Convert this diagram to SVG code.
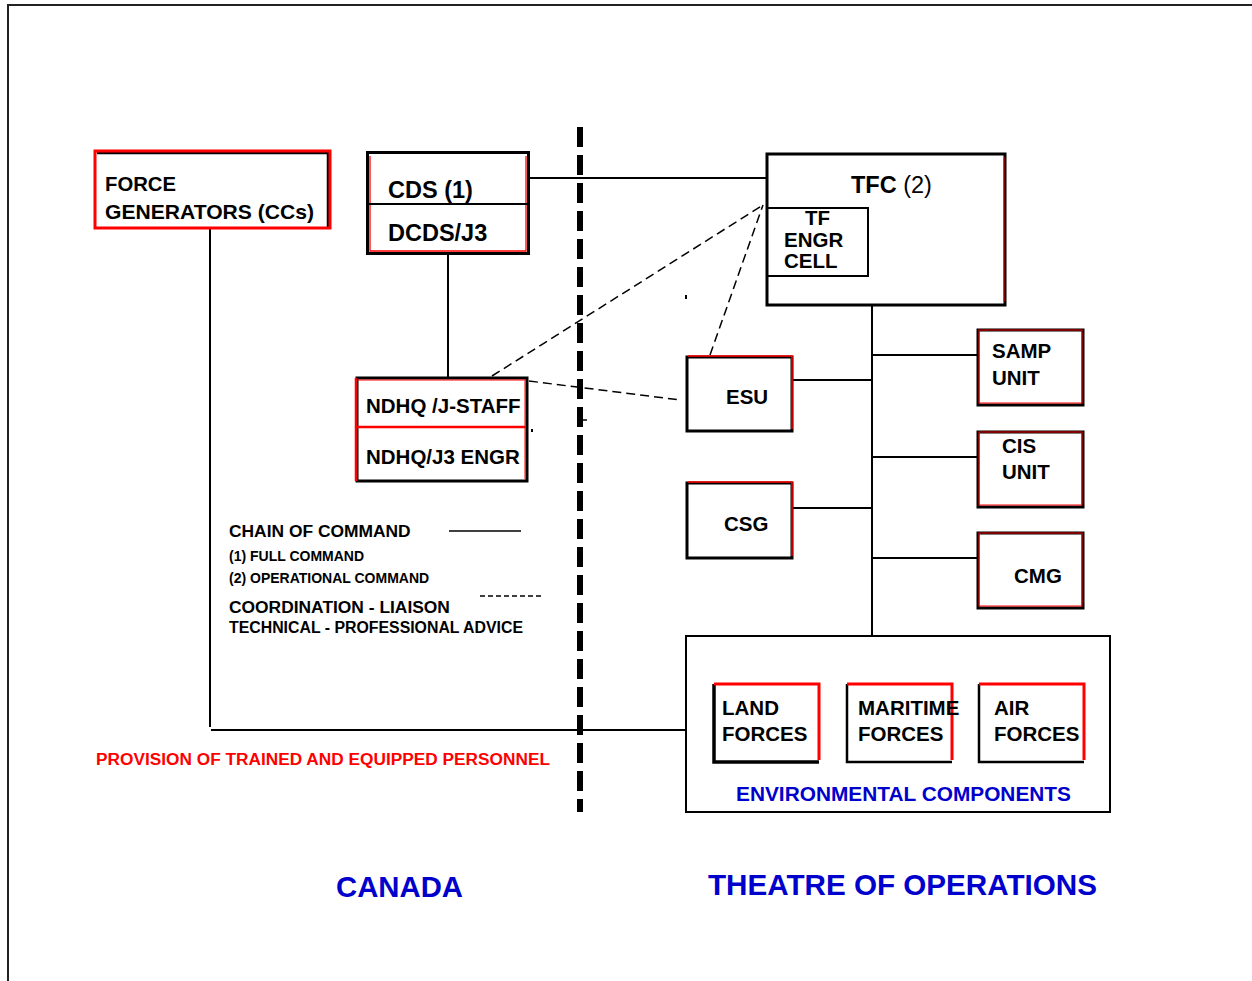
<svg xmlns="http://www.w3.org/2000/svg" width="1252" height="981" viewBox="0 0 1252 981">
  <style>
    text { font-family: "Liberation Sans", Arial, sans-serif; font-weight: bold; fill: #000; }
    .t20 { font-size: 20.5px; }
    .t23 { font-size: 23.5px; }
    .leg { font-size: 17.4px; }
    .legs { font-size: 14px; }
    .blue { fill: #0000CC; }
    .big { font-size: 29.3px; }
    .red { fill: #FF0000; }
    .blk { fill: none; stroke: #000; stroke-width: 3; }
    .blk2 { fill: none; stroke: #000; stroke-width: 2; }
    .rd3 { fill: none; stroke: #FF0000; stroke-width: 3; }
    .solid { fill: none; stroke: #000; stroke-width: 2; }
    .dash { fill: none; stroke: #000; stroke-width: 1.5; stroke-dasharray: 9 5; }
  </style>

  <rect x="0" y="0" width="1252" height="981" fill="#fff"/>

  <!-- page frame -->
  <path d="M8 981 V5 H1252" fill="none" stroke="#222" stroke-width="2"/>

  <!-- Canada / theatre dividing line -->
  <line x1="580" y1="127" x2="580" y2="812" stroke="#000" stroke-width="6" stroke-dasharray="20 8"/>
  <line x1="583" y1="420" x2="587" y2="420" stroke="#000" stroke-width="1.5"/>

  <!-- connectors -->
  <g id="connectors">
    <path class="solid" d="M210 229 V727"/>
    <path class="solid" d="M211 730 H686"/>
    <path class="solid" d="M528 178 H766"/>
    <path class="solid" d="M448 253 V377"/>
    <path class="solid" d="M872 305 V636"/>
    <path class="solid" d="M792 380 H872"/>
    <path class="solid" d="M792 508 H872"/>
    <path class="solid" d="M872 355 H978"/>
    <path class="solid" d="M872 457 H978"/>
    <path class="solid" d="M872 558 H978"/>
    <path class="dash" d="M492 376 L763 205"/>
    <path class="dash" d="M529 381 L680 400"/>
    <path class="dash" d="M710 355 L763 205"/>
    <rect x="685" y="295" width="2" height="4" fill="#000"/>
    <rect x="531" y="429" width="2" height="3" fill="#000"/>
  </g>

  <!-- force generators -->
  <g id="force-generators">
    <path d="M97 153 H328 V227" fill="none" stroke="#000" stroke-width="2.5"/>
    <rect class="rd3" x="95" y="151" width="235" height="77"/>
    <text class="t20" x="105" y="191" textLength="71" lengthAdjust="spacingAndGlyphs">FORCE</text>
    <text class="t20" x="105" y="219" textLength="209" lengthAdjust="spacingAndGlyphs">GENERATORS (CCs)</text>
  </g>

  <!-- CDS / DCDS -->
  <g id="cds">
    <rect class="blk" x="367.5" y="152.5" width="161" height="101"/>
    <path d="M370 156 V251 H526 V156" fill="none" stroke="#FF0000" stroke-width="1.3"/>
    <line x1="368" y1="204" x2="528" y2="204" stroke="#000" stroke-width="2"/>
    <text class="t23" x="388" y="198">CDS (1)</text>
    <text class="t23" x="388" y="241">DCDS/J3</text>
  </g>

  <!-- NDHQ -->
  <g id="ndhq">
    <rect class="blk" x="357" y="378" width="170" height="103"/>
    <path d="M356 378 V481 M357 427 H526" fill="none" stroke="#FF0000" stroke-width="2.5"/>
    <path d="M358 380 H525 V479" fill="none" stroke="#FF0000" stroke-width="1"/>
    <text class="t20" x="366" y="413">NDHQ /J-STAFF</text>
    <text class="t20" x="366" y="464">NDHQ/J3 ENGR</text>
  </g>

  <!-- TFC -->
  <g id="tfc">
    <rect class="blk" x="767" y="154" width="238" height="151"/>
    <line x1="1004" y1="157" x2="1004" y2="302" stroke="#FF0000" stroke-width="1"/>
    <text class="t23" x="851" y="193">TFC <tspan font-weight="normal">(2)</tspan></text>
  </g>

  <g id="tf-engr-cell">
    <rect class="blk2" x="767" y="208" width="101" height="68"/>
    <text class="t20" x="805" y="225">TF</text>
    <text class="t20" x="784" y="247">ENGR</text>
    <text class="t20" x="784" y="268">CELL</text>
  </g>

  <!-- units -->
  <g id="esu">
    <rect class="blk" x="687" y="357" width="105" height="74"/>
    <path d="M688 356 H792 V429" fill="none" stroke="#FF0000" stroke-width="1.5"/>
    <text class="t20" x="726" y="404">ESU</text>
  </g>

  <g id="csg">
    <rect class="blk" x="687" y="483" width="105" height="75"/>
    <path d="M688 482 H792 V556" fill="none" stroke="#FF0000" stroke-width="1.5"/>
    <text class="t20" x="724" y="531">CSG</text>
  </g>

  <g id="samp-unit">
    <rect class="blk" x="978" y="330" width="105" height="75"/>
    <rect x="979" y="330" width="103" height="73" fill="none" stroke="#FF0000" stroke-width="1"/>
    <text class="t20" x="992" y="358">SAMP</text>
    <text class="t20" x="992" y="385">UNIT</text>
  </g>

  <g id="cis-unit">
    <rect class="blk" x="978" y="432" width="105" height="75"/>
    <rect x="979" y="432" width="103" height="73" fill="none" stroke="#FF0000" stroke-width="1"/>
    <text class="t20" x="1002" y="453">CIS</text>
    <text class="t20" x="1002" y="479">UNIT</text>
  </g>

  <g id="cmg">
    <rect class="blk" x="978" y="533" width="105" height="75"/>
    <rect x="979" y="533" width="103" height="73" fill="none" stroke="#FF0000" stroke-width="1"/>
    <text class="t20" x="1014" y="583">CMG</text>
  </g>

  <!-- environmental components -->
  <g id="environmental-components">
    <rect class="blk2" x="686" y="636" width="424" height="176"/>
    <text class="t20 blue" x="736" y="801" textLength="335" lengthAdjust="spacingAndGlyphs">ENVIRONMENTAL COMPONENTS</text>
  </g>

  <g id="land-forces">
    <path d="M714 684 V762 H819" fill="none" stroke="#000" stroke-width="3.5"/>
    <path d="M714 684 H819 V760" class="rd3"/>
    <text class="t20" x="722" y="715">LAND</text>
    <text class="t20" x="722" y="741">FORCES</text>
  </g>

  <g id="maritime-forces">
    <path d="M847 684 V762 H952" fill="none" stroke="#000" stroke-width="2.5"/>
    <path d="M847 684 H952 V760" class="rd3"/>
    <text class="t20" x="858" y="715">MARITIME</text>
    <text class="t20" x="858" y="741">FORCES</text>
  </g>

  <g id="air-forces">
    <path d="M979 684 V762 H1084" fill="none" stroke="#000" stroke-width="2.5"/>
    <path d="M979 684 H1084 V760" class="rd3"/>
    <text class="t20" x="994" y="715">AIR</text>
    <text class="t20" x="994" y="741">FORCES</text>
  </g>

  <!-- legend -->
  <g id="legend">
    <text class="leg" x="229" y="537">CHAIN OF COMMAND</text>
    <line x1="449" y1="531" x2="521" y2="531" stroke="#000" stroke-width="1.5"/>
    <text class="legs" x="229" y="561">(1) FULL COMMAND</text>
    <text class="legs" x="229" y="583">(2) OPERATIONAL COMMAND</text>
    <line x1="480" y1="596" x2="541" y2="596" stroke="#000" stroke-width="1.5" stroke-dasharray="5 3"/>
    <text class="leg" x="229" y="613">COORDINATION - LIAISON</text>
    <text class="leg" x="229" y="633" textLength="294" lengthAdjust="spacingAndGlyphs">TECHNICAL - PROFESSIONAL ADVICE</text>
  </g>

  <text class="leg red" x="96" y="765" textLength="454" lengthAdjust="spacingAndGlyphs">PROVISION OF TRAINED AND EQUIPPED PERSONNEL</text>

  <!-- regions -->
  <text class="big blue" x="336" y="897" textLength="127" lengthAdjust="spacingAndGlyphs">CANADA</text>
  <text class="big blue" x="708" y="895" textLength="389" lengthAdjust="spacingAndGlyphs">THEATRE OF OPERATIONS</text>
</svg>
